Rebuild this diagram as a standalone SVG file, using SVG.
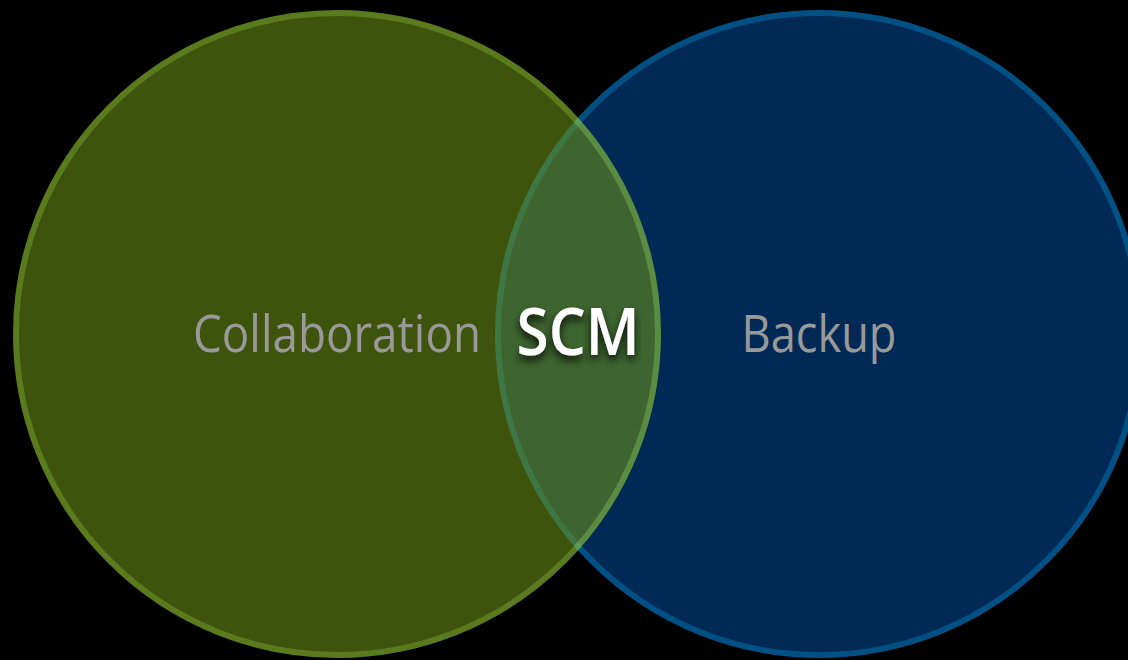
<svg xmlns="http://www.w3.org/2000/svg" width="1128" height="660" viewBox="0 0 1128 660">
  <style>
    .label { font-family: "Open Sans", "Noto Sans", "Liberation Sans", sans-serif; font-size: 51px; font-weight: 500; fill: #999999; text-anchor: middle; }
    .core { font-family: "Open Sans", "Noto Sans", "Liberation Sans", sans-serif; font-size: 65px; font-weight: 600; fill: #ffffff; text-anchor: middle; }
  </style>
  <defs>
    <filter id="shadow" x="-20%" y="-40%" width="140%" height="180%">
      <feGaussianBlur in="SourceAlpha" stdDeviation="4"/>
      <feOffset dx="0" dy="5" result="b"/>
      <feFlood flood-color="#000000" flood-opacity="0.85"/>
      <feComposite in2="b" operator="in"/>
      <feMerge>
        <feMergeNode/>
        <feMergeNode in="SourceGraphic"/>
      </feMerge>
    </filter>
  </defs>
  <rect width="1128" height="660" fill="#000000"/>

  <!-- Backup set (drawn first, underneath) -->
  <g id="backup">
    <circle cx="819" cy="334" r="321" fill="#002a55" stroke="#005084" stroke-width="6"/>
  </g>

  <!-- Collaboration set, translucent so the overlap shows through -->
  <g id="collaboration">
    <circle cx="337" cy="334" r="321" fill="#6d9315" stroke="#9ed635" stroke-width="6" opacity="0.57"/>
  </g>

  <g id="labels">
    <text class="label" x="337" y="352" textLength="288" lengthAdjust="spacingAndGlyphs">Collaboration</text>
    <text class="label" x="819" y="352" textLength="155" lengthAdjust="spacingAndGlyphs">Backup</text>
  </g>

  <g id="scm">
    <text class="core" x="578" y="355" textLength="123" lengthAdjust="spacingAndGlyphs" filter="url(#shadow)">SCM</text>
  </g>
</svg>
